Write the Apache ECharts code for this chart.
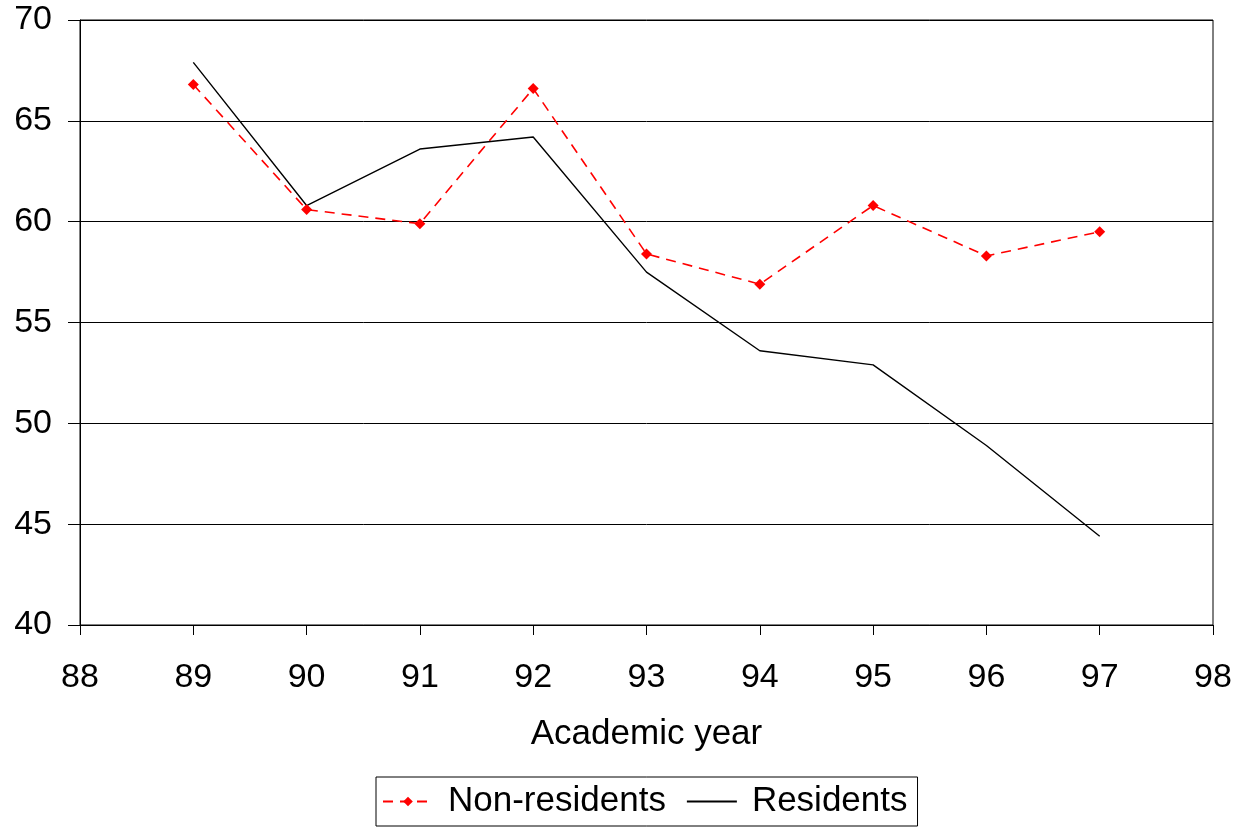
<!DOCTYPE html>
<html><head><meta charset="utf-8">
<script src="https://cdn.jsdelivr.net/npm/echarts@6/dist/echarts.min.js"></script>
<style>html,body{margin:0;padding:0;background:#fff}#c{width:1248px;height:828px}</style>
</head><body><div id="c"></div>
<script>
var years = [89, 90, 91, 92, 93, 94, 95, 96, 97];
var nonResidents = [66.8, 60.6, 59.9, 66.6, 58.4, 56.9, 60.8, 58.3, 59.5];
var residents = [67.9, 60.8, 63.6, 64.2, 57.5, 53.6, 52.9, 48.9, 44.4];
var F = '"Liberation Sans", Arial, sans-serif';
var chart = echarts.init(document.getElementById('c'));
chart.setOption({
  animation: false,
  backgroundColor: '#fff',
  grid: {left: 80, right: 35, top: 20, bottom: 203, show: true, borderColor: '#000', borderWidth: 1},
  xAxis: {
    type: 'value', min: 88, max: 98, interval: 1,
    name: 'Academic year', nameLocation: 'middle', nameGap: 92,
    nameTextStyle: {fontFamily: F, fontSize: 35, color: '#000'},
    axisLine: {lineStyle: {color: '#000'}},
    axisTick: {show: true, length: 10, lineStyle: {color: '#000'}},
    axisLabel: {fontFamily: F, fontSize: 34, color: '#000', margin: 36},
    splitLine: {show: false}
  },
  yAxis: {
    type: 'value', min: 40, max: 70, interval: 5,
    axisLine: {show: true, lineStyle: {color: '#000'}},
    axisTick: {show: true, length: 12, lineStyle: {color: '#000'}},
    axisLabel: {fontFamily: F, fontSize: 34, color: '#000', margin: 28},
    splitLine: {show: true, lineStyle: {color: '#000', width: 1}}
  },
  legend: {
    bottom: 2, left: 376,
    padding: [7, 10, 7, 6],
    borderColor: '#000', borderWidth: 1, borderRadius: 0,
    itemWidth: 50, itemHeight: 12, itemGap: 20,
    textStyle: {fontFamily: F, fontSize: 35, color: '#000', padding: [0, 0, 0, 10]},
    data: [
      {name: 'Non-residents'},
      {name: 'Residents', itemStyle: {opacity: 0}}
    ]
  },
  series: [
    {
      name: 'Non-residents', type: 'line',
      data: years.map(function (y, i) { return [y, nonResidents[i]]; }),
      symbol: 'diamond', symbolSize: 11,
      itemStyle: {color: '#ff0000'},
      lineStyle: {color: '#ff0000', width: 1.6, type: [10, 7]}
    },
    {
      name: 'Residents', type: 'line',
      data: years.map(function (y, i) { return [y, residents[i]]; }),
      symbol: 'none', showSymbol: false,
      itemStyle: {color: '#000'},
      lineStyle: {color: '#000', width: 1.4}
    }
  ]
});
</script></body></html>
